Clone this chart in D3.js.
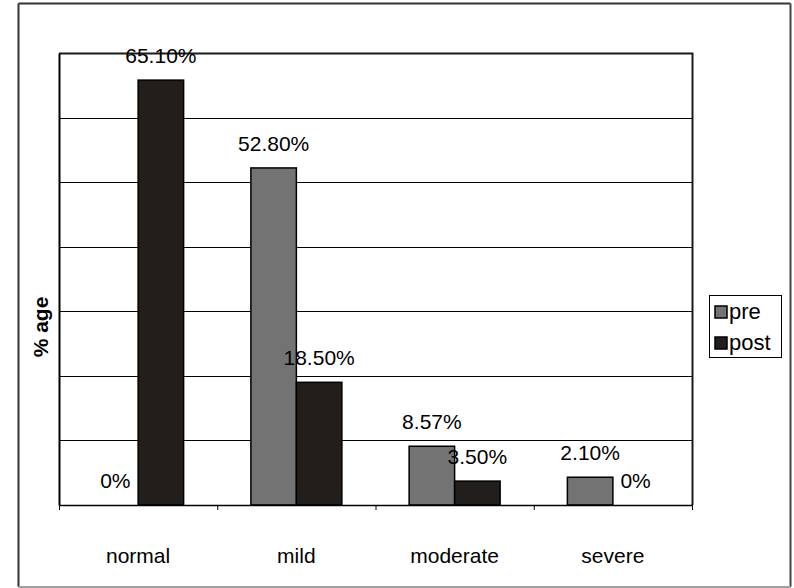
<!DOCTYPE html>
<html>
<head>
<meta charset="utf-8">
<script src="https://cdn.jsdelivr.net/npm/d3@7/dist/d3.min.js"></script>
<style>
  html, body { margin: 0; padding: 0; background: #fff; }
  text { font-family: "Liberation Sans", Arial, sans-serif; }
</style>
</head>
<body>
<svg id="chart" width="794" height="588"></svg>
<script>
// ---- data ----
const categories = ["normal", "mild", "moderate", "severe"];
const seriesNames = ["pre", "post"];
const preValues  = [0, 52.2, 9.1, 4.3];
const postValues = [65.8, 19.0, 3.7, 0];
const preLabels  = ["0%", "52.80%", "8.57%", "2.10%"];
const postLabels = ["65.10%", "18.50%", "3.50%", "0%"];
const yTicks = [0, 10, 20, 30, 40, 50, 60, 70];
const axisTitle = "% age";

// ---- layout ----
const svg = d3.select("#chart");
const W = 794, H = 588;
const plot = { left: 59, top: 53, right: 692, bottom: 505 };
const colors = { pre: "#737373", post: "#221e1c" };

// outer frame
svg.append("rect").attr("x", 0).attr("y", 0).attr("width", W).attr("height", H).attr("fill", "#fff");
const frame = svg.append("g");
frame.append("line").attr("x1", 18.5).attr("x2", 790.5).attr("y1", 3.5).attr("y2", 3.5).attr("stroke", "#333").attr("stroke-width", 2);
frame.append("line").attr("x1", 18.5).attr("x2", 18.5).attr("y1", 3.5).attr("y2", 587).attr("stroke", "#333").attr("stroke-width", 2);
frame.append("line").attr("x1", 790.5).attr("x2", 790.5).attr("y1", 3.5).attr("y2", 587).attr("stroke", "#444").attr("stroke-width", 2);
frame.append("line").attr("x1", 18).attr("x2", 791).attr("y1", 587).attr("y2", 587).attr("stroke", "#a0a0a0").attr("stroke-width", 2);

// scales
const x0 = d3.scaleBand().domain(categories).range([plot.left, plot.right]).paddingInner(0).paddingOuter(0);
const groupW = x0.bandwidth() * 0.575;
const x1 = d3.scaleBand().domain(seriesNames).range([0, groupW]).padding(0);
const y = d3.scaleLinear().domain([0, 70]).range([plot.bottom, plot.top]);

// gridlines
svg.append("g")
  .selectAll("line")
  .data(yTicks.filter(t => t > 0 && t < 70))
  .join("line")
  .attr("x1", plot.left).attr("x2", plot.right)
  .attr("y1", d => Math.round(y(d)) + 0.5).attr("y2", d => Math.round(y(d)) + 0.5)
  .attr("stroke", "#000").attr("stroke-width", 1);

// plot border (top, right)
svg.append("path")
  .attr("d", `M${plot.left},${plot.top + 0.5}H${plot.right + 0.5}V${plot.bottom}`)
  .attr("fill", "none").attr("stroke", "#1a1a1a").attr("stroke-width", 2);

// bars
const rows = categories.map((c, i) => ({
  cat: c,
  items: [
    { s: "pre", v: preValues[i], label: preLabels[i] },
    { s: "post", v: postValues[i], label: postLabels[i] }
  ]
}));

const groups = svg.append("g").selectAll("g")
  .data(rows).join("g")
  .attr("transform", d => `translate(${x0(d.cat) + (x0.bandwidth() - groupW) / 2},0)`);

groups.selectAll("rect")
  .data(d => d.items.filter(it => it.v > 0))
  .join("rect")
  .attr("x", d => x1(d.s))
  .attr("y", d => y(d.v))
  .attr("width", x1.bandwidth())
  .attr("height", d => y(0) - y(d.v))
  .attr("fill", d => colors[d.s])
  .attr("stroke", "#000").attr("stroke-width", 1.5);

groups.selectAll("text")
  .data(d => d.items)
  .join("text")
  .attr("x", d => x1(d.s) + x1.bandwidth() / 2)
  .attr("y", d => y(d.v) - 17)
  .attr("text-anchor", "middle")
  .attr("font-size", 21)
  .attr("fill", "#000")
  .text(d => d.label);

// x axis
const xAxis = d3.axisBottom(x0).tickSize(0).tickFormat("");
const gx = svg.append("g").attr("transform", `translate(0,${plot.bottom})`).call(xAxis);
gx.select(".domain").attr("stroke", "#000").attr("stroke-width", 1.5);
svg.append("g").selectAll("line")
  .data(categories.map(c => x0(c)).concat([plot.right]))
  .join("line")
  .attr("x1", d => d + 0.5).attr("x2", d => d + 0.5)
  .attr("y1", plot.bottom).attr("y2", plot.bottom + 5)
  .attr("stroke", "#000").attr("stroke-width", 1);
svg.append("g").selectAll("text")
  .data(categories).join("text")
  .attr("x", d => x0(d) + x0.bandwidth() / 2)
  .attr("y", 563)
  .attr("text-anchor", "middle")
  .attr("font-size", 21)
  .text(d => d);

// y axis
const yAxis = d3.axisLeft(y).tickValues(yTicks).tickSize(0).tickFormat("");
const gy = svg.append("g").attr("transform", `translate(${plot.left},0)`).call(yAxis);
gy.select(".domain").attr("stroke", "#000").attr("stroke-width", 2);

svg.append("text")
  .attr("transform", `translate(48,327) rotate(-90)`)
  .attr("text-anchor", "middle")
  .attr("font-size", 21)
  .attr("font-weight", "bold")
  .text(axisTitle);

// legend
const lg = svg.append("g").attr("transform", "translate(709,295)");
lg.append("rect").attr("x", 0.5).attr("y", 0.5).attr("width", 72).attr("height", 62)
  .attr("fill", "#fff").attr("stroke", "#000").attr("stroke-width", 1);
const li = lg.selectAll("g.item").data(seriesNames).join("g")
  .attr("transform", (d, i) => `translate(6,${11 + i * 31})`);
li.append("rect").attr("width", 12).attr("height", 12)
  .attr("fill", d => colors[d]).attr("stroke", "#000").attr("stroke-width", 1.5);
li.append("text").attr("x", 14).attr("y", 13).attr("font-size", 22).text(d => d);
</script>
</body>
</html>
